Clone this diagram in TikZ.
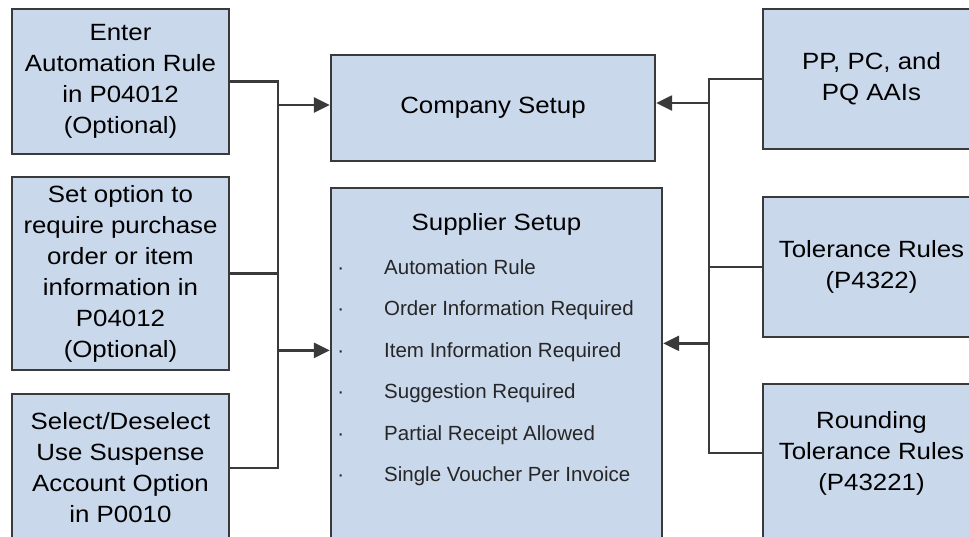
\documentclass[tikz,border=0pt]{standalone}
\usepackage{fontspec}
\setmainfont{Liberation Sans}
\newfontfamily\boxfont[FakeStretch=1.1]{Liberation Sans}
\usetikzlibrary{arrows.meta,calc}
\definecolor{boxfill}{HTML}{CAD8EB}
\definecolor{boxline}{HTML}{3A3A3A}

\begin{document}
\begin{tikzpicture}[x=1pt,y=-1pt,
    box/.style={draw=boxline, fill=boxfill, line width=2.4pt, inner sep=0pt,
      align=center, minimum width=217pt, font=\boxfont\fontsize{23.5}{31}\selectfont},
    link/.style={draw=boxline, line width=2.5pt},
    arr/.style={link, -{Triangle[length=16pt,width=15pt]}},
    item/.style={anchor=base west, inner sep=0pt, text=black!85,
      font=\fontsize{20.5}{24}\selectfont}]
    \useasboundingbox (0,0) rectangle (969,536);

    % Left boxes
    \node[box, minimum height=145pt] (enter) at (120.5,81.5)
      {Enter\\Automation Rule\\in P04012\\(Optional)};
    \node[box, minimum height=193pt] (setopt) at (120.5,273.5)
      {Set option to\\require purchase\\order or item\\information in\\P04012\\(Optional)};
    \node[box, minimum height=148pt] (selsus) at (120.5,468)
      {Select/Deselect\\Use Suspense\\Account Option\\in P0010};

    % Middle boxes
    \node[box, minimum width=324pt, minimum height=106pt] (company) at (493,108)
      {Company Setup};
    \node[box, minimum width=331pt, minimum height=360pt] (supplier) at (496.5,368) {};
    \node[anchor=base, inner sep=0pt, font=\boxfont\fontsize{23.5}{31}\selectfont]
      (suptitle) at (496.5,230) {Supplier Setup};
    \foreach \txt [count=\i] in {Automation Rule, Order Information Required,
        Item Information Required, Suggestion Required, Partial Receipt Allowed,
        Single Voucher Per Invoice}
      \node[item] (item\i) at (384,232.5+41.5*\i)
        {\llap{\textperiodcentered\hspace{40pt}}\txt};

    % Right boxes
    \node[box, minimum height=140pt] (aais) at (871.5,79) {PP, PC, and\\PQ AAIs};
    \node[box, minimum height=140pt] (tolrule) at (871.5,267) {Tolerance Rules\\(P4322)};
    \node[box, minimum height=176pt] (roundrule) at (871.5,472) {};
    \node[inner sep=0pt, align=center, font=\boxfont\fontsize{23.5}{31}\selectfont]
      (roundtxt) at (871.5,453) {Rounding\\Tolerance Rules\\(P43221)};

    % Left connectors
    \coordinate (lbus) at (278,0);
    \draw[link] (enter.east) -| (lbus |- selsus.east) -- (selsus.east);
    \draw[link] (setopt.east) -- (lbus |- setopt.east);
    \draw[arr] ([yshift=3pt]lbus |- company.west) -- ([yshift=3pt]company.west);
    \draw[arr] ([yshift=4pt]lbus |- item3.mid) -- ([yshift=4pt]supplier.west |- item3.mid);

    % Right connectors
    \coordinate (rbus) at (709,0);
    \draw[link] (roundrule.west |- roundtxt) -- (rbus |- roundtxt) |- (aais.west);
    \draw[link] (tolrule.west) -- (rbus |- tolrule.west);
    \draw[arr] ([yshift=5pt]rbus |- company.east) -- ([yshift=5pt]company.east);
    \draw[arr] ([yshift=11pt]rbus |- item3.mid) -- ([yshift=11pt]supplier.east |- item3.mid);
\end{tikzpicture}
\end{document}
